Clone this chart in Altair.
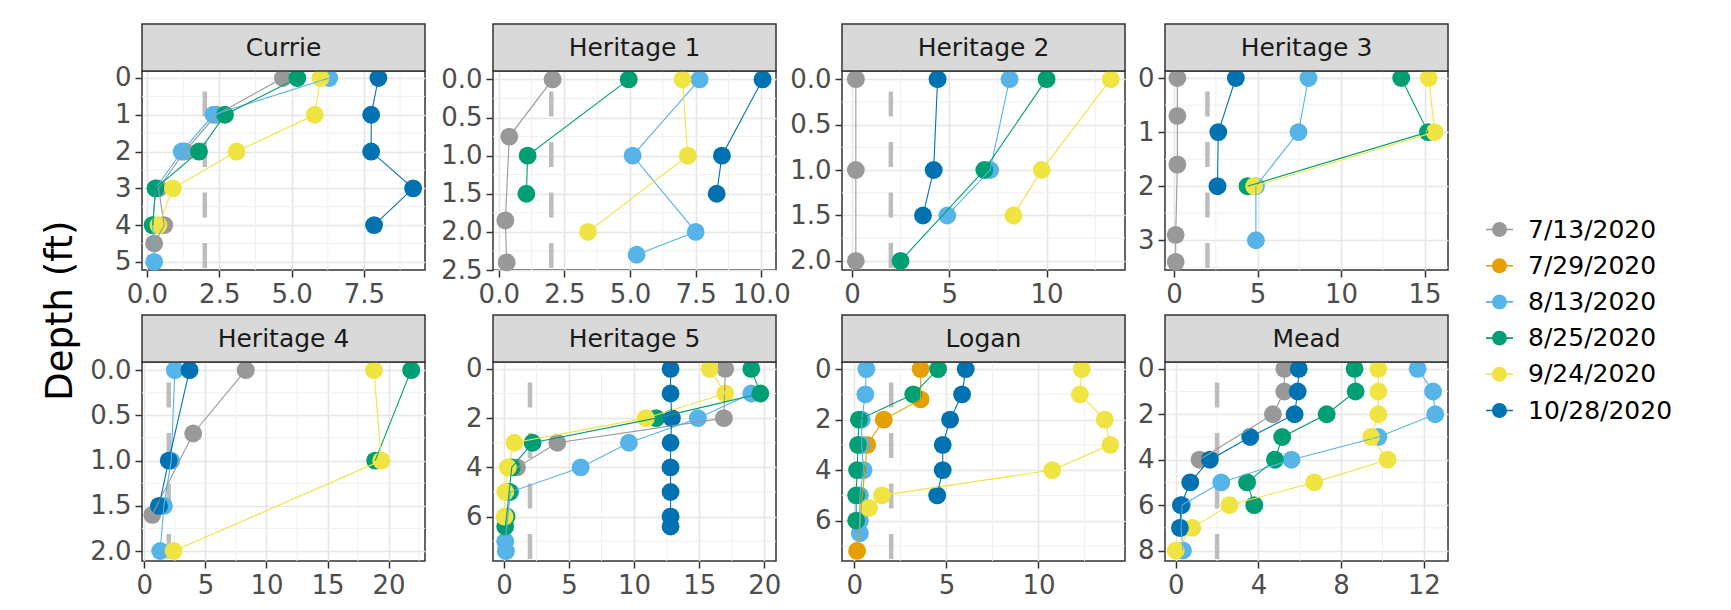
import altair as alt
import pandas as pd

# Sampling dates and their colours (Okabe-Ito palette)
DATES = ["7/13/2020", "7/29/2020", "8/13/2020", "8/25/2020", "9/24/2020", "10/28/2020"]
COLORS = ["#999999", "#E69F00", "#56B4E9", "#009E73", "#F0E442", "#0072B2"]

SITES = ["Currie", "Heritage 1", "Heritage 2", "Heritage 3",
         "Heritage 4", "Heritage 5", "Logan", "Mead"]

# Reference level drawn as the dashed vertical line
THRESHOLD = 2

# Profiles per site: date -> (depth in ft, measured value)
CURRIE = {
    "7/13/2020": ([0, 1, 2, 3, 4, 4.5], [4.7, 2.4, 1.3, 0.4, 0.6, 0.25]),
    "8/13/2020": ([0, 1, 2, 3, 4, 5], [6.3, 2.3, 1.2, 0.3, 0.2, 0.25]),
    "8/25/2020": ([0, 1, 2, 3, 4], [5.2, 2.7, 1.8, 0.3, 0.2]),
    "9/24/2020": ([0, 1, 2, 3, 4], [6.0, 5.8, 3.1, 0.9, 0.4]),
    "10/28/2020": ([0, 1, 2, 3, 4], [8.0, 7.75, 7.75, 9.2, 7.85]),
}
HERITAGE_1 = {
    "7/13/2020": ([0, 0.75, 1.85, 2.4], [2.05, 0.4, 0.25, 0.3]),
    "8/13/2020": ([0, 1.0, 2.0, 2.3], [7.65, 5.1, 7.5, 5.25]),
    "8/25/2020": ([0, 1.0, 1.5], [4.95, 1.1, 1.05]),
    "9/24/2020": ([0, 1.0, 2.0], [7.0, 7.2, 3.4]),
    "10/28/2020": ([0, 1.0, 1.5], [10.05, 8.5, 8.3]),
}
HERITAGE_2 = {
    "7/13/2020": ([0, 1.0, 2.0], [0.2, 0.2, 0.2]),
    "8/13/2020": ([0, 1.0, 1.5], [8.1, 7.1, 4.9]),
    "8/25/2020": ([0, 1.0, 2.0], [10.0, 6.8, 2.5]),
    "9/24/2020": ([0, 1.0, 1.5], [13.3, 9.75, 8.3]),
    "10/28/2020": ([0, 1.0, 1.5], [4.4, 4.2, 3.65]),
}
HERITAGE_3 = {
    "7/13/2020": ([0, 0.7, 1.6, 2.9, 3.4], [0.2, 0.2, 0.2, 0.1, 0.1]),
    "8/13/2020": ([0, 1, 2, 3], [8.05, 7.45, 4.9, 4.9]),
    "8/25/2020": ([0, 1, 2], [13.6, 15.2, 4.4]),
    "9/24/2020": ([0, 1, 2], [15.25, 15.6, 4.8]),
    "10/28/2020": ([0, 1, 2], [3.7, 2.65, 2.6]),
}
HERITAGE_4 = {
    "7/13/2020": ([0, 0.7, 1.6], [8.3, 4.0, 0.65]),
    "8/13/2020": ([0, 1.0, 1.5, 2.0], [2.5, 2.2, 1.6, 1.3]),
    "8/25/2020": ([0, 1.0], [21.85, 18.9]),
    "9/24/2020": ([0, 1.0, 2.0], [18.8, 19.4, 2.4]),
    "10/28/2020": ([0, 1.0, 1.5], [3.7, 2.0, 1.2]),
}
HERITAGE_5 = {
    "7/13/2020": ([0, 2, 3, 4], [17.0, 16.9, 4.1, 1.0]),
    "8/13/2020": ([1, 2, 3, 4, 5, 7, 7.4], [19.0, 14.9, 9.6, 5.9, 0.5, 0.1, 0.15]),
    "8/25/2020": ([0, 1, 2, 3, 4, 5, 6, 6.4], [19.0, 19.7, 11.7, 2.2, 0.6, 0.4, 0.2, 0.1]),
    "9/24/2020": ([0, 1, 2, 3, 4, 5, 6], [15.8, 17.0, 10.9, 0.8, 0.3, 0.1, 0.05]),
    "10/28/2020": ([0, 1, 2, 3, 4, 5, 6, 6.4], [12.8, 12.8, 12.9, 12.8, 12.8, 12.8, 12.8, 12.8]),
}
LOGAN = {
    "7/29/2020": ([0, 1.2, 2, 3, 7.2], [3.6, 3.6, 1.6, 0.7, 0.15]),
    "8/13/2020": ([0, 1, 2, 3, 4, 5, 6, 6.5], [0.65, 0.6, 0.4, 0.4, 0.5, 0.3, 0.3, 0.3]),
    "8/25/2020": ([0, 1, 2, 3, 4, 5, 6], [4.55, 3.2, 0.25, 0.2, 0.15, 0.1, 0.1]),
    "9/24/2020": ([0, 1, 2, 3, 4, 5, 5.5], [12.35, 12.25, 13.6, 13.9, 10.75, 1.5, 0.8]),
    "10/28/2020": ([0, 1, 2, 3, 4, 5], [6.05, 5.85, 5.2, 4.8, 4.8, 4.5]),
}
MEAD = {
    "7/13/2020": ([0, 1, 2, 4], [5.25, 5.25, 4.7, 1.15]),
    "8/13/2020": ([0, 1, 2, 3, 4, 5, 6, 7, 8], [11.7, 12.45, 12.55, 9.8, 5.6, 2.2, 0.3, 0.25, 0.35]),
    "8/25/2020": ([0, 1, 2, 3, 4, 5, 6], [8.65, 8.7, 7.3, 5.15, 4.8, 3.45, 3.8]),
    "9/24/2020": ([0, 1, 2, 3, 4, 5, 6, 7, 8], [9.8, 9.8, 9.8, 9.45, 10.25, 6.7, 2.6, 0.8, 0.0]),
    "10/28/2020": ([0, 1, 2, 3, 4, 5, 6, 7], [5.95, 5.9, 5.75, 3.6, 1.65, 0.7, 0.25, 0.2]),
}
PROFILES = {
    "Currie": CURRIE, "Heritage 1": HERITAGE_1, "Heritage 2": HERITAGE_2,
    "Heritage 3": HERITAGE_3, "Heritage 4": HERITAGE_4, "Heritage 5": HERITAGE_5,
    "Logan": LOGAN, "Mead": MEAD,
}

# Axis breaks per panel
X_TICKS = {
    "Currie": [0, 2.5, 5, 7.5], "Heritage 1": [0, 2.5, 5, 7.5, 10],
    "Heritage 2": [0, 5, 10], "Heritage 3": [0, 5, 10, 15],
    "Heritage 4": [0, 5, 10, 15, 20], "Heritage 5": [0, 5, 10, 15, 20],
    "Logan": [0, 5, 10], "Mead": [0, 4, 8, 12],
}
Y_TICKS = {
    "Currie": [0, 1, 2, 3, 4, 5], "Heritage 1": [0, 0.5, 1, 1.5, 2, 2.5],
    "Heritage 2": [0, 0.5, 1, 1.5, 2], "Heritage 3": [0, 1, 2, 3],
    "Heritage 4": [0, 0.5, 1, 1.5, 2], "Heritage 5": [0, 2, 4, 6],
    "Logan": [0, 2, 4, 6], "Mead": [0, 2, 4, 6, 8],
}
# Scale limits per panel (free scales)
X_DOMAIN = {
    "Currie": [-0.17, 9.61], "Heritage 1": [-0.22, 10.56], "Heritage 2": [-0.51, 14.03],
    "Heritage 3": [-0.54, 16.4], "Heritage 4": [-0.19, 22.98], "Heritage 5": [-0.84, 20.9],
    "Logan": [-0.67, 14.7], "Mead": [-0.52, 13.17],
}
Y_DOMAIN = {
    "Currie": [-0.19, 5.22], "Heritage 1": [-0.11, 2.5], "Heritage 2": [-0.09, 2.1],
    "Heritage 3": [-0.13, 3.55], "Heritage 4": [-0.09, 2.11], "Heritage 5": [-0.28, 7.8],
    "Logan": [-0.28, 7.6], "Mead": [-0.3, 8.46],
}

FONT = "DejaVu Sans"
W, H, STRIP = 283, 199, 47
MAJOR_GRID = "#e6e6e6"
MINOR_GRID = "#f0f0f0"
# extra room kept to the right of a column (pixels)
COLUMN_PAD = {"Currie": 16, "Heritage 4": 16, "Heritage 2": 13, "Logan": 13}

# legend key: a short line through a dot
KEY_PATH = ("M-1,-0.06L1,-0.06L1,0.06L-1,0.06Z"
            "M0.55,0A0.55,0.55,0,1,1,-0.55,0A0.55,0.55,0,1,1,0.55,0Z")

LEGEND = alt.Legend(
    title=None, orient="none", legendX=1344, legendY=145, padding=0,
    labelFont=FONT, labelFontSize=25, labelColor="#000000", labelOffset=15,
    symbolType=KEY_PATH, symbolSize=729, symbolStrokeWidth=0, rowPadding=9.2,
)
COLOR = alt.Color("date:N", scale=alt.Scale(domain=DATES, range=COLORS), legend=LEGEND)


def minor_breaks(ticks, domain):
    step = ticks[1] - ticks[0]
    ext = [ticks[0] - step] + list(ticks) + [ticks[-1] + step]
    mids = [(a + b) / 2 for a, b in zip(ext[:-1], ext[1:])]
    return [m for m in mids if domain[0] <= m <= domain[1]]


def fmt(ticks):
    return ".1f" if any(t % 1 for t in ticks) else "d"


def panel(site):
    rows = []
    for date in DATES:
        if date not in PROFILES[site]:
            continue
        depths, values = PROFILES[site][date]
        for d, v in zip(depths, values):
            rows.append({"date": date, "depth": d, "value": v})
    df = pd.DataFrame(rows)

    xs = alt.Scale(domain=X_DOMAIN[site], nice=False, zero=False)
    ys = alt.Scale(domain=Y_DOMAIN[site], reverse=True, nice=False, zero=False)
    xaxis = alt.Axis(values=X_TICKS[site], format=fmt(X_TICKS[site]), title=None)
    yaxis = alt.Axis(values=Y_TICKS[site], format=fmt(Y_TICKS[site]), title=None)

    mx = pd.DataFrame({"v": minor_breaks(X_TICKS[site], X_DOMAIN[site])})
    my = pd.DataFrame({"v": minor_breaks(Y_TICKS[site], Y_DOMAIN[site])})

    minor_x = alt.Chart(mx).mark_rule(color=MINOR_GRID, strokeWidth=1).encode(
        x=alt.X("v:Q", scale=xs, axis=xaxis))
    minor_y = alt.Chart(my).mark_rule(color=MINOR_GRID, strokeWidth=1).encode(
        y=alt.Y("v:Q", scale=ys, axis=yaxis))
    vline = alt.Chart(pd.DataFrame({"v": [THRESHOLD]})).mark_rule(
        color="#bdbdbd", strokeWidth=4.5, strokeDash=[25, 25.5], strokeDashOffset=30
    ).encode(x=alt.X("v:Q", scale=xs, axis=xaxis))

    pts = alt.Chart(df).mark_circle(size=320, opacity=1).encode(
        x=alt.X("value:Q", scale=xs, axis=xaxis),
        y=alt.Y("depth:Q", scale=ys, axis=yaxis),
        color=COLOR,
    )
    lines = alt.Chart(df).mark_line(strokeWidth=1.1).encode(
        x=alt.X("value:Q", scale=xs, axis=xaxis),
        y=alt.Y("depth:Q", scale=ys, axis=yaxis),
        color=alt.Color("date:N", scale=alt.Scale(domain=DATES, range=COLORS), legend=None),
        order="depth:Q",
    )

    lab = pd.DataFrame({"site": [site]})
    strip_bg = alt.Chart(lab).mark_rect(
        fill="#d9d9d9", stroke="#333333", strokeWidth=1.5
    ).encode(x=alt.value(0), x2=alt.value(W), y=alt.value(-STRIP), y2=alt.value(0))
    strip_tx = alt.Chart(lab).mark_text(
        font=FONT, fontSize=25, color="#1a1a1a", baseline="middle", align="center"
    ).encode(text="site:N", x=alt.value(W / 2), y=alt.value(-STRIP / 2))

    layers = [minor_x, minor_y, vline, pts, lines, strip_bg, strip_tx]
    if site in COLUMN_PAD:
        # keeps the gap to the next column
        layers.append(alt.Chart(lab).mark_rule(opacity=0).encode(
            x=alt.value(W + COLUMN_PAD[site]), y=alt.value(0), y2=alt.value(1)))
    return alt.layer(*layers).properties(width=W, height=H)


chart = alt.concat(
    *[panel(s) for s in SITES], columns=4, align="each",
    spacing={"row": 5, "column": -3},
).resolve_scale(
    x="independent", y="independent", color="shared"
).properties(
    title=alt.Title("Depth (ft)", orient="left", anchor="middle", font=FONT,
                    fontSize=37, fontWeight="normal", color="#000000", offset=9),
    padding={"left": 41, "top": 22, "right": 5, "bottom": 0},
    background="white",
).configure_title(
    font=FONT, fontSize=37, fontWeight="normal", color="#000000"
).configure_view(
    stroke="#333333", strokeWidth=1.5, fill="white"
).configure_axis(
    domain=False, tickColor="#333333", tickWidth=1.5, tickSize=7,
    labelFont=FONT, labelFontSize=26, labelColor="#4d4d4d", labelPadding=4,
    labelOverlap=False, grid=True, gridColor=MAJOR_GRID, gridWidth=1.6,
)

chart.save("out.html", embed_options={"renderer": "svg", "actions": False})
